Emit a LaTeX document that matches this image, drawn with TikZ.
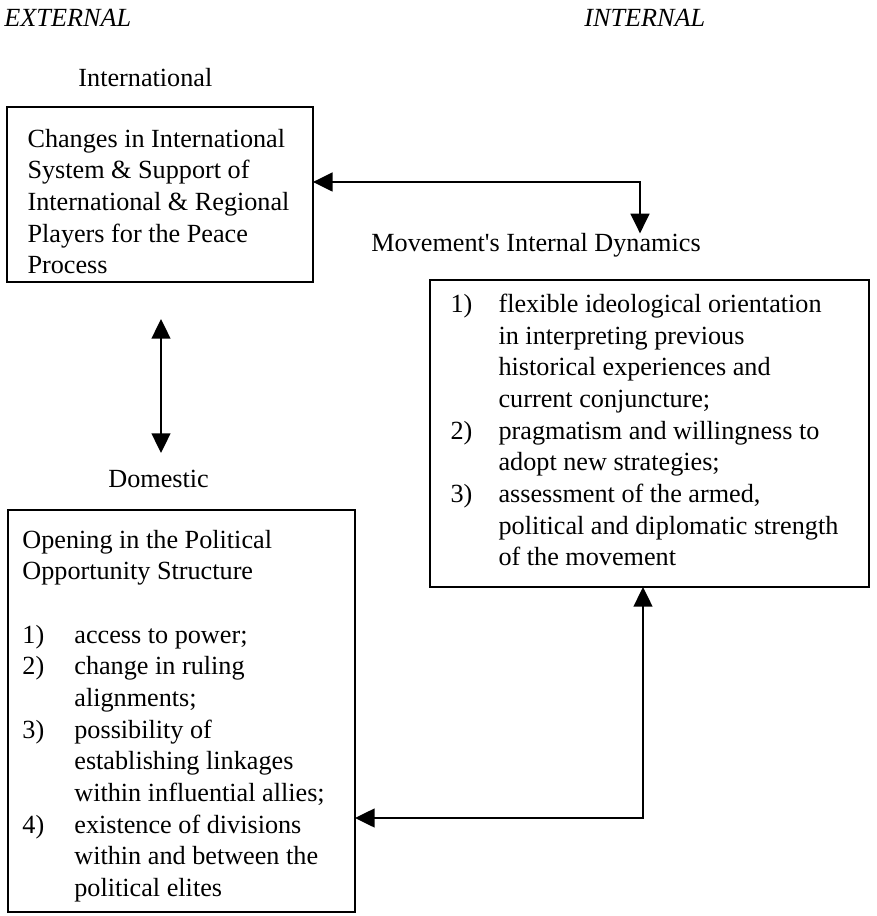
\documentclass[tikz,border=0pt]{standalone}
\usepackage{fontspec}
\setmainfont{Liberation Serif}
\usetikzlibrary{arrows.meta, positioning}

\begin{document}
\begin{tikzpicture}[
  x=0.458pt, y=-0.458pt,
  % ---- styles ----
  every node/.style = {font=\fontsize{12}{14.5}\selectfont},
  panel/.style = {
    draw=black, line width=0.9pt,
    anchor=north west,
    inner sep=0pt, outer sep=0pt
  },
  paneltext/.style = {inner sep=0pt, align=left},
  heading/.style = {anchor=base west, inner sep=0pt},
  side/.style = {heading, font=\fontsize{12}{14.5}\selectfont\itshape},
  rel/.style = {{Triangle[length=9pt, width=8.6pt]}-{Triangle[length=9pt, width=8.6pt]}, line width=0.9pt}
]

\useasboundingbox (0,0) rectangle (876,916);

% ============ HEADINGS ============

\node[side] (external) at (4,27) {EXTERNAL};
\node[side] (internal) at (584,27) {INTERNAL};

\node[heading] (intllabel) at (78,87) {International};
\node[heading] (domlabel) at (108,487) {Domestic};
\node[heading] (dynlabel) at (371,252) {Movement\textquotesingle s Internal Dynamics};

% ============ BOXES ============

% --- international ---
\node[panel, minimum width=140.1pt, minimum height=80.2pt] (intlbox) at (7,107) {};
\node[paneltext, below right=8.1pt and 9.2pt of intlbox.north west] (intltext) {%
  \begin{tabular}{@{}l@{}}
  Changes in International\\
  System \& Support of\\
  International \& Regional\\
  Players for the Peace\\
  Process
  \end{tabular}};

% --- domestic ---
\node[panel, minimum width=158.9pt, minimum height=184.1pt] (dombox) at (8,510) {};
\node[paneltext, below right=7.2pt and 6.4pt of dombox.north west] (domtext) {%
  \begin{tabular}{@{}p{23.8pt}@{}l@{}}
  \multicolumn{2}{@{}l@{}}{Opening in the Political}\\
  \multicolumn{2}{@{}l@{}}{Opportunity Structure}\\
  & \\
  1) & access to power;\\
  2) & change in ruling\\
     & alignments;\\
  3) & possibility of\\
     & establishing linkages\\
     & within influential allies;\\
  4) & existence of divisions\\
     & within and between the\\
     & political elites
  \end{tabular}};

% --- internal dynamics ---
\node[panel, minimum width=201.1pt, minimum height=140.6pt] (dynbox) at (430,280) {};
\node[paneltext, below right=4.5pt and 9.2pt of dynbox.north west] (dyntext) {%
  \begin{tabular}{@{}p{22pt}@{}l@{}}
  1) & flexible ideological orientation\\
     & in interpreting previous\\
     & historical experiences and\\
     & current conjuncture;\\
  2) & pragmatism and willingness to\\
     & adopt new strategies;\\
  3) & assessment of the armed,\\
     & political and diplomatic strength\\
     & of the movement
  \end{tabular}};

% ============ RELATIONSHIPS ============

\coordinate (topbend) at (640,182);
\coordinate (botbend) at (643,818);
\coordinate (vtop) at (161,319);
\coordinate (vbot) at (161,453);

% international <-> internal dynamics
\draw[rel] (intlbox.east |- topbend) -- (topbend) -- (topbend |- dynlabel.north);

% international <-> domestic
\draw[rel] (vtop) -- (vbot);

% domestic <-> internal dynamics
\draw[rel] (dombox.east |- botbend) -- (botbend) -- (botbend |- dynbox.south);

\end{tikzpicture}
\end{document}
